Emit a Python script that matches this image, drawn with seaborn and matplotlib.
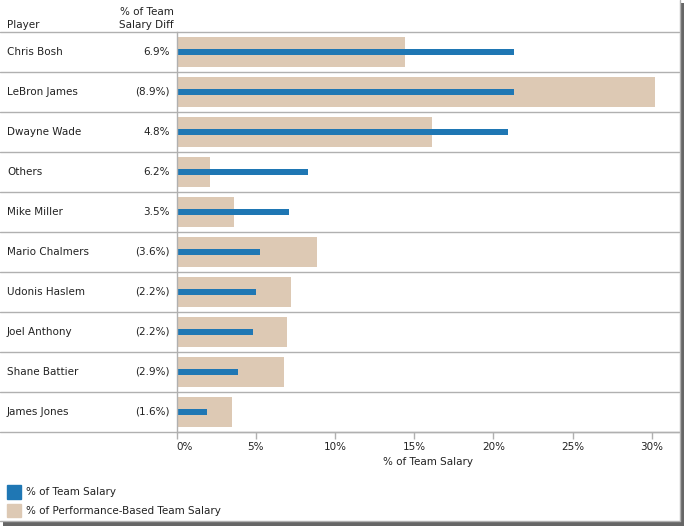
import pandas as pd
import matplotlib
matplotlib.use("Agg")
import matplotlib.pyplot as plt
import matplotlib.transforms as mtransforms
from matplotlib.patches import Patch, Rectangle
from matplotlib.lines import Line2D
import seaborn as sns

players = ["Chris Bosh", "LeBron James", "Dwayne Wade", "Others", "Mike Miller",
           "Mario Chalmers", "Udonis Haslem", "Joel Anthony", "Shane Battier", "James Jones"]
team_salary = [21.3, 21.3, 20.9, 8.3, 7.1, 5.3, 5.0, 4.8, 3.9, 1.9]
perf_salary = [14.4, 30.2, 16.1, 2.1, 3.6, 8.9, 7.2, 7.0, 6.8, 3.5]
diff_labels = ["6.9%", "(8.9%)", "4.8%", "6.2%", "3.5%",
               "(3.6%)", "(2.2%)", "(2.2%)", "(2.9%)", "(1.6%)"]
x_ticks = [0, 5, 10, 15, 20, 25, 30]

df = pd.DataFrame({"player": players, "team": team_salary, "perf": perf_salary})

sns.set_style("white")
plt.rcParams["font.family"] = ["DejaVu Sans"]
blue = "#1f77b4"
beige = "#ddc9b4"
grid_c = "#b0b0b0"
text_c = "#222222"

W, H = 684, 526
fig = plt.figure(figsize=(W / 100, H / 100), dpi=100)
ax = fig.add_axes([176.5 / W, (H - 432) / H, (679 - 176.5) / W, 400 / H])

sns.barplot(data=df, y="player", x="perf", color=beige, width=0.75,
            orient="h", ax=ax, saturation=1, edgecolor="none")
sns.barplot(data=df, y="player", x="team", color=blue, width=0.15,
            orient="h", ax=ax, saturation=1, edgecolor="none")

ax.set_xlim(0, 31.72)
ax.set_ylim(len(players) - 0.5, -0.5)
ax.set_xticks(x_ticks)
ax.set_xticklabels([f"{t}%" for t in x_ticks], fontsize=7.5, color=text_c)
ax.get_xticklabels()[0].set_horizontalalignment("left")
ax.tick_params(axis="x", length=5, color=grid_c, width=1, pad=2, bottom=True)
ax.set_yticks([])
ax.set_ylabel("")
ax.set_xlabel("% of Team Salary", fontsize=7.5, color=text_c, labelpad=4)

for s in ["top", "right"]:
    ax.spines[s].set_visible(False)
for s in ["left", "bottom"]:
    ax.spines[s].set_color(grid_c)
    ax.spines[s].set_linewidth(1)

# row separators across the full width
left_frac = -176.5 / (679 - 176.5)
for i in range(len(players) + 1):
    ax.axhline(i - 0.5, xmin=left_frac, xmax=1, color=grid_c, lw=1, clip_on=False, zorder=0)

# left text columns
trans = mtransforms.blended_transform_factory(fig.transFigure, ax.transData)
for i, (p, d) in enumerate(zip(players, diff_labels)):
    ax.text(7 / W, i, p, transform=trans, ha="left", va="center", fontsize=7.5, color=text_c)
    ax.text(170 / W, i, d, transform=trans, ha="right", va="center", fontsize=7.5, color=text_c)

fig.text(7 / W, 1 - 25 / H, "Player", ha="left", va="center", fontsize=7.5, color=text_c)
fig.text(174 / W, 1 - 18.5 / H, "% of Team\nSalary Diff", ha="right", va="center",
         fontsize=7.5, color=text_c, linespacing=1.3)

# legend
handles = [Patch(color=blue, label="% of Team Salary"),
           Patch(color=beige, label="% of Performance-Based Team Salary")]
fig.legend(handles=handles, loc="upper left", bbox_to_anchor=(-2 / W, 1 - 476 / H),
           frameon=False, fontsize=7.5, handlelength=1.3, handleheight=1.6,
           handletextpad=0.5, labelspacing=0.5, labelcolor=text_c)

# window frame (right and bottom) with shadow
fig.add_artist(Line2D([679.5 / W, 679.5 / W], [5 / H, 1], transform=fig.transFigure,
                      color=grid_c, lw=1))
fig.add_artist(Line2D([0, 679.5 / W], [5.5 / H, 5.5 / H], transform=fig.transFigure,
                      color=grid_c, lw=1))
fig.patches.append(Rectangle((680 / W, 0), 4 / W, 1 - 3 / H, transform=fig.transFigure,
                             color="#666666", lw=0))
fig.patches.append(Rectangle((3 / W, 0), 681 / W, 5 / H, transform=fig.transFigure,
                             color="#666666", lw=0))

fig.savefig("out.png", dpi=100)
